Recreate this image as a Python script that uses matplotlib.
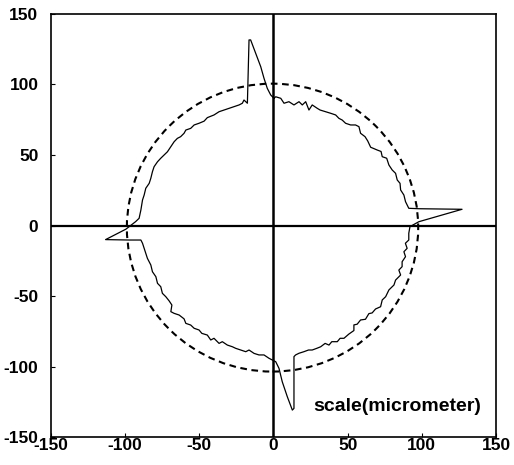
import matplotlib
matplotlib.use("Agg")
import matplotlib.pyplot as plt
from matplotlib.patches import Ellipse

# Measured profile (micrometer), traced clockwise from the top
quad_top_right_x = [0.3, 1.5, 4.9, 7.1, 10.4, 13.8, 17.2, 19.4, 21.7, 23.9, 26.1, 29.5, 31.4, 35.2,
                    38.5, 41.9, 44.1, 46.3, 48.6, 52.0, 55.3, 57.6, 58.7, 61.7, 63.5, 65.5, 70.0,
                    72.5, 73.3, 76.3, 77.8, 80.0, 82.3, 83.4, 85.3, 85.7, 87.9, 89.0, 91.2, 98.0,
                    127.1, 98.0, 92.0]
quad_top_right_y = [90.2, 91.3, 90.2, 86.7, 87.8, 85.5, 87.8, 85.5, 87.8, 81.9, 85.5, 83.1, 81.9, 80.7,
                    79.6, 78.4, 76.0, 74.8, 72.5, 71.3, 71.3, 70.1, 65.4, 63.0, 60.0, 55.5, 53.5,
                    52.5, 48.8, 47.7, 42.9, 39.4, 37.0, 32.3, 29.9, 25.2, 21.6, 16.9, 12.2, 11.9,
                    11.5, 2.7, -0.8]

quad_bottom_right_x = [91.2, 91.2, 88.9, 90.1, 87.9, 89.0, 86.7, 86.7, 84.5, 85.7, 82.3, 81.2, 77.8,
                       75.6, 73.3, 72.2, 68.8, 66.5, 64.3, 62.0, 58.7, 56.4, 54.2, 54.2, 50.8,
                       47.5, 44.9, 43.0, 39.3, 37.4, 34.8, 31.8, 29.2, 26.1, 23.6, 20.5, 17.2,
                       14.9, 13.8, 13.8, 12.7, 9.3, 5.9, 3.7, 1.5, -0.8]
quad_bottom_right_y = [-5.5, -10.3, -12.6, -16.2, -18.6, -22.1, -25.7, -29.2, -31.6, -35.1, -38.7,
                       -42.2, -45.7, -50.5, -52.8, -57.6, -59.2, -62.0, -62.5, -66.5, -67.0, -70.0,
                       -70.5, -74.5, -77.0, -80.0, -80.0, -82.4, -82.4, -84.8, -83.6, -86.0, -87.1,
                       -88.3, -88.3, -89.5, -90.6, -91.8, -93.0, -129.7, -130.9, -121.4, -110.8,
                       -101.3, -96.6, -95.4]

quad_bottom_left_x = [-3.0, -6.4, -9.8, -13.1, -16.5, -18.7, -22.1, -25.5, -27.7, -31.1, -34.5,
                      -36.7, -40.1, -42.3, -44.6, -48.3, -50.2, -53.5, -55.8, -59.1, -60.3, -63.6,
                      -67.0, -69.2, -68.5, -70.4, -72.6, -74.9, -76.0, -78.2, -79.3, -81.6, -82.7,
                      -85.0, -86.1, -87.2, -88.3, -89.4, -97.3, -113.2, -99.5]
quad_bottom_left_y = [-94.2, -91.8, -91.8, -90.7, -88.3, -89.5, -88.3, -87.1, -86.0, -84.8, -82.4,
                      -83.6, -80.0, -81.2, -77.7, -76.5, -74.1, -72.9, -70.6, -69.4, -66.2, -63.5,
                      -62.3, -61.1, -56.4, -53.4, -50.5, -48.1, -43.4, -41.0, -36.3, -32.8, -28.0,
                      -23.3, -19.7, -16.2, -12.6, -10.3, -10.3, -10.0, -2.6]

quad_top_left_x = [-93.0, -90.6, -89.4, -88.3, -87.2, -86.1, -83.8, -82.7, -81.6, -80.5, -78.2,
                   -76.0, -73.7, -71.5, -69.2, -67.0, -64.8, -62.6, -60.3, -59.1, -55.8, -53.5,
                   -50.2, -46.8, -44.6, -40.1, -36.7, -33.3, -30.0, -26.6, -23.2, -21.0, -19.9,
                   -18.7, -17.6, -16.5, -15.4, -12.0, -8.6, -6.4, -4.2, -1.9, 0.3]
quad_top_left_y = [2.7, 5.1, 11.0, 18.1, 21.6, 26.4, 29.9, 33.5, 38.2, 41.7, 45.2, 47.7, 50.0,
                   52.3, 55.9, 59.4, 61.8, 63.0, 65.4, 67.7, 68.9, 71.3, 72.5, 74.0, 76.5, 78.4,
                   80.7, 81.9, 83.1, 84.3, 85.5, 86.7, 89.0, 87.8, 86.7, 131.6, 131.6, 122.1,
                   112.6, 104.4, 97.3, 92.6, 90.2]

# Reference circle (dashed)
circle_center = (-0.65, -1.5)
circle_width = 196.4
circle_height = 204.2

ticks = [-150, -100, -50, 0, 50, 100, 150]
annotation = "scale(micrometer)"

profile_x = quad_top_right_x + quad_bottom_right_x + quad_bottom_left_x + quad_top_left_x
profile_y = quad_top_right_y + quad_bottom_right_y + quad_bottom_left_y + quad_top_left_y

plt.rcParams['font.family'] = ['Liberation Sans', 'DejaVu Sans']
plt.rcParams['axes.unicode_minus'] = False

fig = plt.figure(figsize=(5.14, 4.65), dpi=100)
ax = fig.add_axes([0.0992, 0.0602, 0.8658, 0.9097])

ax.axhline(0, color='black', lw=1.6, zorder=1)
ax.axvline(0, color='black', lw=1.8, zorder=1)

ell = Ellipse(circle_center, circle_width, circle_height, fill=False, edgecolor='black',
              lw=1.5, linestyle=(0, (3.2, 2.2)), zorder=2)
ax.add_patch(ell)

ax.plot(profile_x, profile_y, color='black', lw=0.9, zorder=3)

ax.text(26.5, -128.5, annotation, fontsize=14, fontweight='bold', va='center', ha='left')

ax.set_xlim(-150, 150)
ax.set_ylim(-150, 150)
ax.set_xticks(ticks)
ax.set_yticks(ticks)
ax.tick_params(axis='both', direction='in', length=3, width=0.8, labelsize=12.5)
ax.tick_params(axis='x', pad=1)
ax.tick_params(axis='y', pad=9)
for lab in ax.get_xticklabels() + ax.get_yticklabels():
    lab.set_fontweight('bold')
for sp in ax.spines.values():
    sp.set_linewidth(1.2)

fig.savefig("out.png", dpi=100)
